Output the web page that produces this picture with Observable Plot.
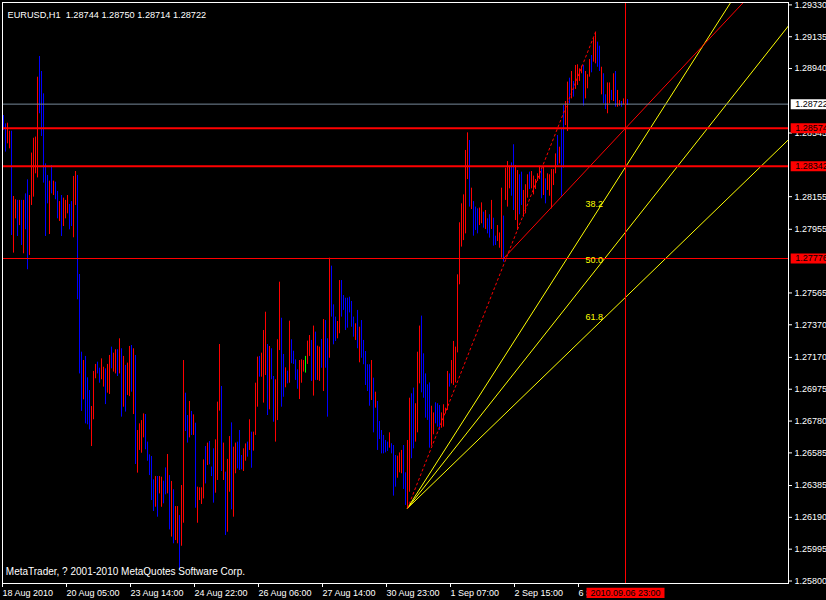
<!DOCTYPE html>
<html><head><meta charset="utf-8">
<script src="https://cdn.jsdelivr.net/npm/d3@7"></script>
<script src="https://cdn.jsdelivr.net/npm/@observablehq/plot@0.6"></script>
<style>html,body{margin:0;padding:0;background:#000;overflow:hidden}</style>
</head><body><div id="chart"></div>
<script>
const symbol = "EURUSD,H1";
const lastOHLC = [1.28744, 1.28750, 1.28714, 1.28722];
const copyright = "MetaTrader, ? 2001-2010 MetaQuotes Software Corp.";

const yTicks = [1.29330, 1.29135, 1.28940, 1.28545, 1.28155, 1.27955, 1.27565, 1.27370, 1.27170,
  1.26975, 1.26780, 1.26585, 1.26385, 1.26190, 1.25995, 1.25800];
const xTickBars = [1, 33, 65, 97, 129, 161, 193, 225, 257, 289];
const xTickLabels = ["18 Aug 2010", "20 Aug 05:00", "23 Aug 14:00", "24 Aug 22:00", "26 Aug 06:00",
  "27 Aug 14:00", "30 Aug 23:00", "1 Sep 07:00", "2 Sep 15:00", "6 Sep 00:00"];

const highs = [
1.28652,1.28601,1.28605,1.28556,1.28556,1.28156,1.28136,1.28132,1.28132,1.28132,
1.28132,1.28172,1.28258,1.28162,1.28422,1.28513,1.28520,1.28887,1.29014,1.28922,
1.28785,1.28356,1.28285,1.28250,1.28346,1.28250,1.28244,1.28187,1.28125,1.28162,
1.28146,1.28132,1.28162,1.28107,1.28125,1.28279,1.28309,1.28285,1.27678,1.27202,
1.27151,1.27176,1.27045,1.26967,1.26869,1.27084,1.27127,1.27141,1.27104,1.27161,
1.27110,1.27100,1.27127,1.27182,1.27233,1.27196,1.27217,1.27217,1.27284,1.27223,
1.27176,1.27121,1.27135,1.27237,1.27243,1.27223,1.27182,1.26722,1.26763,1.26783,
1.26824,1.26820,1.26651,1.26573,1.26563,1.26420,1.26440,1.26440,1.26440,1.26436,
1.26412,1.26493,1.26575,1.26446,1.26410,1.26359,1.26256,1.26256,1.26201,1.26385,
1.27151,1.26951,1.26814,1.26900,1.26839,1.26818,1.26767,1.26375,1.26371,1.26371,
1.26542,1.26624,1.26645,1.26655,1.26498,1.26610,1.26665,1.26896,1.27249,1.26992,
1.26645,1.26467,1.26545,1.26685,1.26769,1.26620,1.26645,1.26651,1.26722,1.26569,
1.26610,1.26640,1.26651,1.26788,1.26712,1.26712,1.27012,1.27172,1.27176,1.27196,
1.27335,1.27447,1.27249,1.27237,1.27223,1.27053,1.27033,1.27278,1.27631,1.27410,
1.27188,1.27106,1.27086,1.27392,1.27278,1.27208,1.27155,1.27094,1.27151,1.27155,
1.27151,1.27176,1.27270,1.27304,1.27274,1.27362,1.27325,1.27239,1.27233,1.27280,
1.27402,1.27396,1.27284,1.27778,1.27729,1.27492,1.27417,1.27390,1.27641,1.27641,
1.27549,1.27533,1.27533,1.27539,1.27513,1.27417,1.27376,1.27458,1.27355,1.27396,
1.27274,1.27206,1.27125,1.27125,1.27151,1.27043,1.26957,1.26900,1.26777,1.26722,
1.26692,1.26661,1.26651,1.26708,1.26641,1.26630,1.26569,1.26565,1.26585,1.26600,
1.26630,1.26463,1.26661,1.26920,1.26947,1.26982,1.26886,1.27202,1.27362,1.27423,
1.27192,1.27069,1.27002,1.27014,1.26871,1.26830,1.26892,1.26886,1.26875,1.26830,
1.26880,1.26859,1.27084,1.27069,1.27151,1.27268,1.27233,1.27676,1.27995,1.28111,
1.28166,1.28438,1.28546,1.28499,1.28207,1.28125,1.28091,1.28080,1.28085,1.28117,
1.28060,1.28070,1.28019,1.28044,1.28132,1.28023,1.27913,1.27978,1.27933,1.28207,
1.28036,1.28330,1.28370,1.28342,1.28362,1.28473,1.28346,1.28315,1.28289,1.28305,
1.28193,1.28228,1.28289,1.28305,1.28309,1.28281,1.28260,1.28295,1.28342,1.28330,
1.28336,1.28264,1.28295,1.28289,1.28321,1.28321,1.28417,1.28530,1.28458,1.28567,
1.28714,1.28738,1.28857,1.28881,1.28922,1.28861,1.28959,1.28963,1.28938,1.28955,
1.28959,1.28922,1.28902,1.28995,1.29020,1.29126,1.29163,1.29102,1.29077,1.28948,
1.28908,1.28779,1.28852,1.28852,1.28806,1.28908,1.28922,1.28806,1.28744,1.28738,
1.28754,1.28744,1.28750];

const lows = [
1.28560,1.28428,1.28479,1.28448,1.27917,1.27809,1.28019,1.27911,1.27978,1.27856,
1.27805,1.27952,1.27707,1.27795,1.28101,1.28152,1.28295,1.28270,1.28663,1.28524,
1.28238,1.27911,1.28111,1.27923,1.28172,1.28162,1.28136,1.28019,1.28003,1.27911,
1.27972,1.28019,1.28050,1.27952,1.27972,1.27903,1.28101,1.27523,1.27069,1.26839,
1.26910,1.26763,1.26757,1.26726,1.26624,1.26788,1.27039,1.27069,1.27012,1.27033,
1.26988,1.26881,1.26951,1.26943,1.27100,1.27080,1.27069,1.27053,1.27069,1.26804,
1.26865,1.26835,1.26937,1.26930,1.26957,1.26820,1.26514,1.26461,1.26600,1.26583,
1.26677,1.26604,1.26534,1.26446,1.26293,1.26226,1.26252,1.26191,1.26334,1.26252,
1.26273,1.26328,1.26334,1.26113,1.26069,1.26028,1.26048,1.26028,1.25868,1.26013,
1.26154,1.26716,1.26645,1.26677,1.26692,1.26692,1.26246,1.26154,1.26293,1.26269,
1.26303,1.26395,1.26508,1.26512,1.26440,1.26277,1.26338,1.26416,1.26841,1.26471,
1.26416,1.26079,1.26099,1.26344,1.26236,1.26191,1.26457,1.26487,1.26477,1.26481,
1.26471,1.26534,1.26559,1.26600,1.26491,1.26596,1.26692,1.26865,1.27049,1.27049,
1.26890,1.27059,1.26814,1.26849,1.27033,1.26773,1.26651,1.26783,1.27212,1.26865,
1.26926,1.26984,1.27008,1.27012,1.27131,1.27127,1.27029,1.26975,1.26912,1.27012,
1.27080,1.27074,1.27127,1.27176,1.27023,1.26933,1.27029,1.27029,1.27023,1.27104,
1.26961,1.27104,1.26804,1.27165,1.27417,1.27247,1.27268,1.27284,1.27315,1.27417,
1.27458,1.27335,1.27349,1.27443,1.27355,1.27294,1.27274,1.27223,1.27137,1.27165,
1.27125,1.26998,1.26961,1.26871,1.26906,1.26708,1.26859,1.26600,1.26667,1.26579,
1.26579,1.26585,1.26594,1.26614,1.26579,1.26320,1.26375,1.26430,1.26463,1.26457,
1.26361,1.26263,1.26246,1.26344,1.26549,1.26610,1.26651,1.26708,1.27008,1.26953,
1.26920,1.26798,1.26784,1.26614,1.26626,1.26696,1.26763,1.26743,1.26722,1.26736,
1.26743,1.26824,1.26845,1.26988,1.27008,1.26998,1.27014,1.27198,1.27615,1.27846,
1.27886,1.27927,1.28260,1.28091,1.28076,1.27913,1.27948,1.27927,1.27978,1.27989,
1.27962,1.27954,1.27927,1.27901,1.27954,1.27852,1.27856,1.27880,1.27839,1.27778,
1.27754,1.28132,1.28091,1.28203,1.28158,1.28070,1.28009,1.27948,1.28044,1.28101,
1.28029,1.28050,1.28146,1.28199,1.28203,1.28166,1.28199,1.28248,1.28260,1.28142,
1.28162,1.28111,1.28193,1.28158,1.28080,1.28223,1.28295,1.28346,1.28356,1.28158,
1.28330,1.28591,1.28554,1.28724,1.28754,1.28765,1.28812,1.28836,1.28861,1.28908,
1.28710,1.28754,1.28816,1.28887,1.28914,1.28979,1.28969,1.28948,1.28922,1.28779,
1.28724,1.28689,1.28663,1.28724,1.28744,1.28738,1.28703,1.28703,1.28710,1.28703,
1.28718,1.28714,1.28714];

// r = up bar, b = down bar, g = doji
const barDirs = ("bbrrbrrbrb" + "rbbrrrrrbb" + "bbbrbrbbrb" + "rrrbbrrbbb" + "rbbbrrrbbr" +
  "rbrrbrrbrb" + "rbrrbrbrrr" + "rbbbbbrbrr" + "bbrbrbrrbr" + "rbbrbrbrrr" +
  "rbrbbbrrrb" + "rbrrbrrbbb" + "rrbrbrrrbr" + "rrbrbbrrrb" + "brbrbbbbrr" +
  "rgrrbrbrrb" + "rbbrbbbrrb" + "bbbbbbrbrb" + "bbbbrbrbbb" + "bbbrbbbrrr" +
  "bbrrbbrrrb" + "bbbbrrbbbr" + "rrrbrrrrrr" + "rrrbrbbbrr" + "brbbrbbrrr" +
  "brrrbbrrbb" + "rrrbrrrrrb" + "rbrrrrrbrb" + "brrbrbrrrr" + "brrrbrrbbr" +
  "bbrrbrbrrb" + "rrb").split("");

const fanStart = {bar: 203, price: 1.26246};
const fanEnd = {bar: 297, price: 1.29163};
const fanLevels = [38.2, 50.0, 61.8];
const rayStart = {bar: 251, price: 1.27776};
const rayEnd = {bar: 312, price: 1.28574};
const markerBar = 312;
const markerLabel = "2010.09.06 23:00";
const priceLines = [
  {price: 1.28722, kind: "bid"},
  {price: 1.28574, kind: "level"},
  {price: 1.28342, kind: "level"},
  {price: 1.27776, kind: "thin"}
];

const lineStyle = {
  bid: {stroke: "#778899", width: 1, box: "#ffffff"},
  level: {stroke: "#ff0000", width: 2, box: "#ff0000"},
  thin: {stroke: "#ff0000", width: 1, box: "#ff0000"}
};
const dirColor = {r: "#ff0000", b: "#0000ff", g: "#00ff00"};

const bars = highs.map((h, k) => ({bar: k + 1, high: h, low: lows[k], dir: barDirs[k]}));
const farBar = 600;
function extendLine(a, b) {
  const s = (b.price - a.price) / (b.bar - a.bar);
  return [a, {bar: farBar, price: a.price + s * (farBar - a.bar)}];
}
const fanRange = fanEnd.price - fanStart.price;
const fanPoints = fanLevels.map(l => ({level: l, bar: fanEnd.bar, price: fanEnd.price - l / 100 * fanRange}));
const fanLines = fanPoints.flatMap(p => extendLine(fanStart, p).map(q => ({bar: q.bar, price: q.price, level: p.level})));
const titleText = symbol + "\u00a0\u00a0" + lastOHLC.map(v => v.toFixed(5)).join(" ");

const chart = Plot.plot({
  width: 826, height: 600,
  marginLeft: 2, marginTop: 2, marginRight: 38, marginBottom: 17,
  style: {background: "#000", color: "#fff", fontFamily: "'Liberation Sans', Arial, sans-serif", fontSize: "9px"},
  x: {domain: [0.5, 393.5], axis: null},
  y: {domain: [1.257847, 1.293447], axis: null},
  color: {type: "identity"},
  marks: [
    Plot.ruleX(bars, {x: "bar", y1: "low", y2: "high", stroke: d => dirColor[d.dir], strokeWidth: 1}),
    Plot.line(fanLines, {x: "bar", y: "price", z: "level", stroke: "#ffff00", strokeWidth: 1, clip: true}),
    Plot.line(extendLine(rayStart, rayEnd), {x: "bar", y: "price", stroke: "#ff0000", strokeWidth: 1, clip: true}),
    Plot.line([fanStart, fanEnd], {x: "bar", y: "price", stroke: "#ff0000", strokeWidth: 1, strokeDasharray: "2,3"}),
    Plot.ruleY(priceLines, {y: "price", stroke: d => lineStyle[d.kind].stroke, strokeWidth: d => lineStyle[d.kind].width}),
    Plot.ruleX([markerBar], {x: d => d, stroke: "#ff0000", strokeWidth: 1}),
    Plot.text(fanPoints, {x: "bar", y: "price", text: d => d.level.toFixed(1), fill: "#ffff00", textAnchor: "start", dx: -10, dy: -9.7}),
    Plot.frame({stroke: "#ffffff"}),
    Plot.axisY(yTicks, {anchor: "right", tickSize: 3, tickPadding: 3, tickFormat: d => d.toFixed(5), label: null}),
    Plot.axisX(xTickBars, {anchor: "bottom", tickSize: 4, tickPadding: 2, textAnchor: "start", dx: -1,
      tickFormat: d => xTickLabels[xTickBars.indexOf(d)], label: null}),
    Plot.ruleY(priceLines, {y: "price", stroke: d => lineStyle[d.kind].box, strokeWidth: 10, insetLeft: 788.7, insetRight: -40}),
    Plot.text(priceLines, {y: "price", text: d => d.price.toFixed(5), frameAnchor: "right", dx: 6.7, textAnchor: "start", fill: "#000"}),
    Plot.ruleX([markerBar], {x: d => d, stroke: "#ff0000", strokeWidth: 78, insetTop: 585.7, insetBottom: -15}),
    Plot.text([markerLabel], {x: () => markerBar, text: d => d, frameAnchor: "bottom", lineAnchor: "top", dy: 6.1, fill: "#000"}),
    Plot.text([titleText], {text: d => d, frameAnchor: "top-left", dx: 5, dy: 9.1, textAnchor: "start", fill: "#fff", fontSize: 9.2}),
    Plot.text([copyright], {text: d => d, frameAnchor: "bottom-left", dx: 3.3, dy: -8.9, textAnchor: "start", fill: "#fff", fontSize: 10})
  ]
});
document.getElementById("chart").appendChild(chart);
</script>
</body></html>
